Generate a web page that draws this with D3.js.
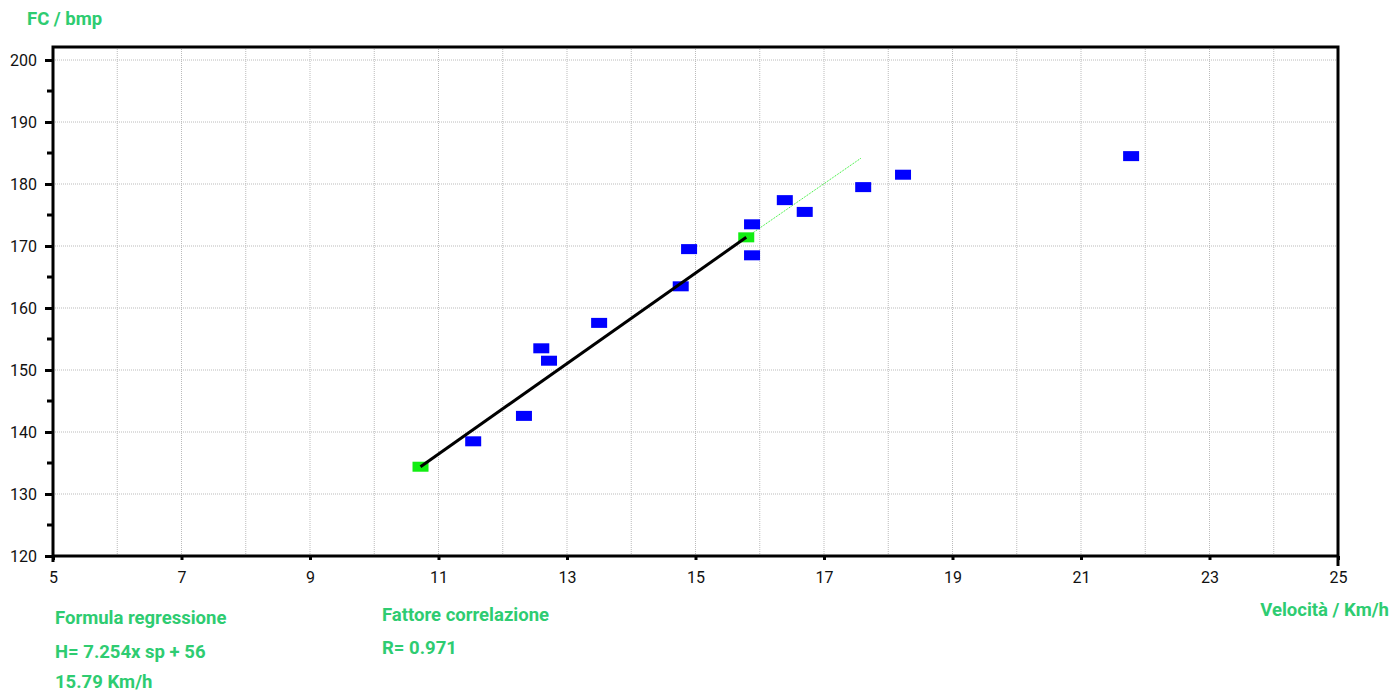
<!DOCTYPE html>
<html>
<head>
<meta charset="utf-8">
<script src="https://cdn.jsdelivr.net/npm/d3@7"></script>
<style>
  body { margin: 0; background: #fff; }
</style>
</head>
<body>
<div id="vis"></div>
<script>
// speed (km/h) vs heart rate (bpm)
const speeds = [21.78, 18.23, 17.61, 16.39, 16.70, 15.88, 15.88, 14.90, 14.77, 13.50, 12.60, 12.72, 12.33, 11.54];
const heartRates = [184.5, 181.5, 179.5, 177.4, 175.5, 173.5, 168.5, 169.5, 163.5, 157.6, 153.5, 151.5, 142.6, 138.5];

// regression segment and its dotted extension
const regSpeeds = [10.72, 15.79];
const regRates = [134.4, 171.4];
const extSpeeds = [15.79, 17.58];
const extRates = [171.4, 184.2];

const xTicks = [5, 7, 9, 11, 13, 15, 17, 19, 21, 23, 25];
const yTicks = [120, 130, 140, 150, 160, 170, 180, 190, 200];

const font = '"Liberation Sans Narrow", "Roboto", sans-serif';
const green = '#2ecc71';

const svg = d3.select("#vis").append("svg")
    .attr("width", 1391).attr("height", 694);

const x = d3.scaleLinear().domain([5, 25]).range([53, 1338]);
const y = d3.scaleLinear().domain([120, 202.1]).range([556, 47]);

// grid
svg.append("g")
    .selectAll("line")
    .data(d3.range(6, 25))
    .join("line")
    .attr("x1", d => x(d)).attr("x2", d => x(d))
    .attr("y1", y.range()[0]).attr("y2", y.range()[1])
    .attr("stroke", "#bbb").attr("stroke-dasharray", "1,1");

svg.append("g")
    .selectAll("line")
    .data(yTicks.slice(1))
    .join("line")
    .attr("x1", x.range()[0]).attr("x2", x.range()[1])
    .attr("y1", d => y(d)).attr("y2", d => y(d))
    .attr("stroke", "#bbb").attr("stroke-dasharray", "1,1");

// y axis
const yAxis = svg.append("g")
    .attr("transform", `translate(${x(5)},0)`)
    .call(d3.axisLeft(y).tickValues(yTicks).tickSize(8).tickFormat(d3.format("d")));
yAxis.select(".domain").remove();
yAxis.selectAll(".tick line").attr("stroke", "#000").attr("stroke-width", 3);
yAxis.selectAll(".tick text")
    .attr("x", -16).attr("dy", "0.35em")
    .style("font-family", font).style("font-size", "16px").attr("fill", "#111");

svg.append("g")
    .selectAll("line")
    .data(d3.range(125, 200, 10))
    .join("line")
    .attr("x1", x(5) - 6).attr("x2", x(5))
    .attr("y1", d => y(d)).attr("y2", d => y(d))
    .attr("stroke", "#000").attr("stroke-width", 3);

// x axis
const xAxis = svg.append("g")
    .attr("transform", `translate(0,${y(120)})`)
    .call(d3.axisBottom(x).tickValues(xTicks).tickSize(4).tickFormat(d3.format("d")));
xAxis.select(".domain").remove();
xAxis.selectAll(".tick line").attr("stroke", "#000").attr("stroke-width", 3);
xAxis.selectAll(".tick text")
    .attr("y", 16)
    .style("font-family", font).style("font-size", "16px").attr("fill", "#111");

// frame
svg.append("rect")
    .attr("x", x(5)).attr("y", y(202.1))
    .attr("width", x(25) - x(5)).attr("height", y(120) - y(202.1))
    .attr("fill", "none").attr("stroke", "#000").attr("stroke-width", 3);
svg.append("line")
    .attr("x1", x(25)).attr("x2", x(25))
    .attr("y1", y(120)).attr("y2", y(120) + 10)
    .attr("stroke", "#000").attr("stroke-width", 3);
svg.append("line")
    .attr("x1", x(5)).attr("x2", x(5))
    .attr("y1", y(120)).attr("y2", y(120) + 6)
    .attr("stroke", "#000").attr("stroke-width", 3);

// regression
const line = d3.line().x(d => x(d[0])).y(d => y(d[1]));
svg.append("path")
    .attr("d", line(d3.zip(extSpeeds, extRates)))
    .attr("fill", "none").attr("stroke", "#22ee22")
    .attr("stroke-width", 1).attr("stroke-dasharray", "1,1");

// data points
const pts = d3.zip(speeds, heartRates);
svg.append("g")
    .selectAll("rect")
    .data(pts)
    .join("rect")
    .attr("x", d => x(d[0]) - 8).attr("y", d => y(d[1]) - 5)
    .attr("width", 16).attr("height", 10)
    .attr("fill", "#0000ff");

const regPts = d3.zip(regSpeeds, regRates);
svg.append("g")
    .selectAll("rect")
    .data(regPts)
    .join("rect")
    .attr("x", d => x(d[0]) - 8).attr("y", d => y(d[1]) - 5)
    .attr("width", 16).attr("height", 10)
    .attr("fill", "#11ee11");

svg.append("path")
    .attr("d", line(regPts))
    .attr("fill", "none").attr("stroke", "#000")
    .attr("stroke-width", 3);

// labels
const labels = [
    { t: "FC / bmp", x: 27, y: 25, a: "start" },
    { t: "Velocità / Km/h", x: 1389, y: 616, a: "end" },
    { t: "Formula regressione", x: 55, y: 624, a: "start" },
    { t: "H= 7.254x sp + 56", x: 55, y: 658, a: "start" },
    { t: "15.79 Km/h", x: 55, y: 688, a: "start" },
    { t: "Fattore correlazione", x: 382, y: 621, a: "start" },
    { t: "R= 0.971", x: 382, y: 654, a: "start" }
];
labels.map(d => {
    svg.append("text")
        .attr("x", d.x).attr("y", d.y)
        .attr("text-anchor", d.a)
        .style("font-family", "Roboto, sans-serif")
        .style("font-size", "18.5px").style("font-weight", "bold")
        .attr("fill", green)
        .text(d.t);
});
</script>
</body>
</html>
